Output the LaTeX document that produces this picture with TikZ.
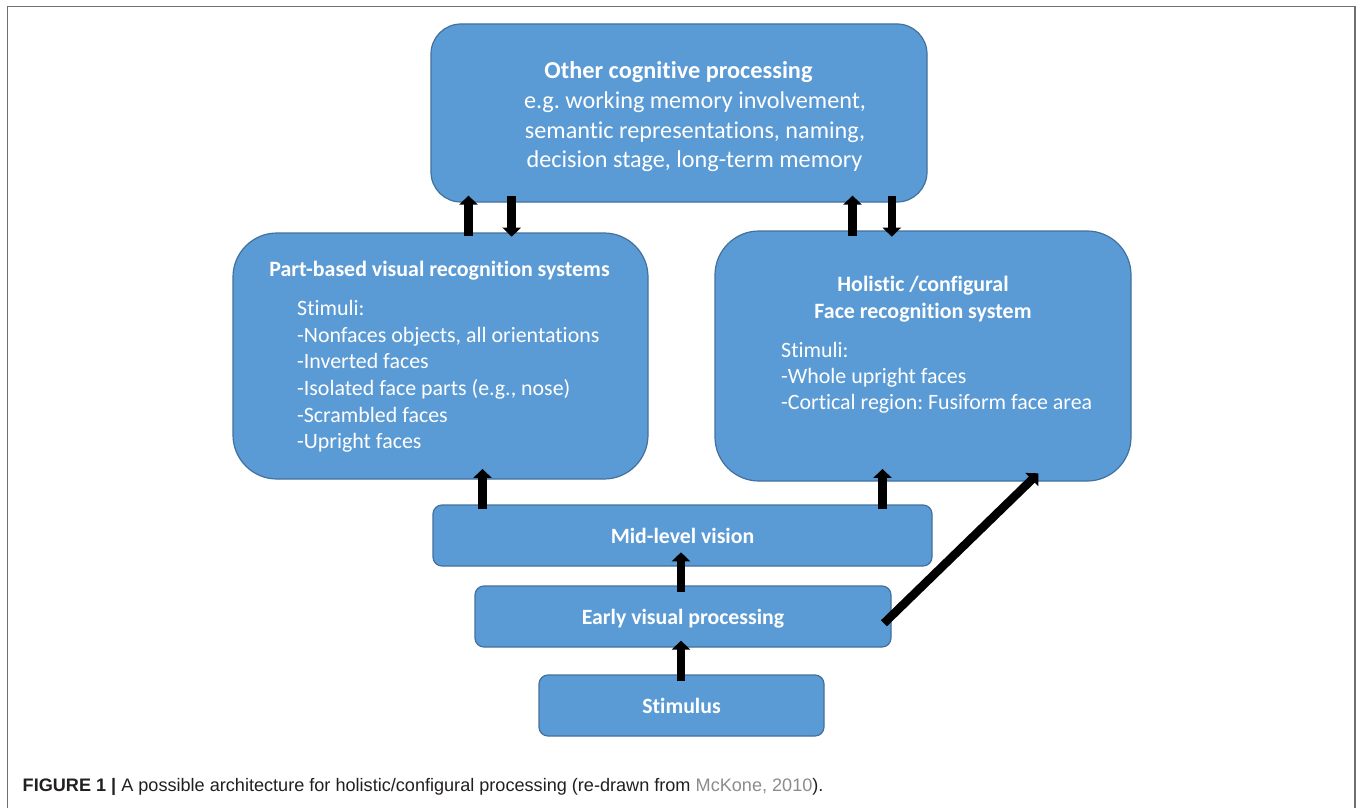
\documentclass[tikz,border=0pt]{standalone}
\usepackage{fontspec}
\setmainfont{Carlito}[Ligatures=NoCommon]
\newfontfamily\capfont{Liberation Sans}
\usetikzlibrary{arrows.meta}
\definecolor{boxfill}{HTML}{5B9BD5}
\definecolor{boxline}{HTML}{41719C}
\definecolor{framegray}{HTML}{707070}
\definecolor{linkgray}{HTML}{8C8C8C}
\definecolor{captxt}{HTML}{231F20}
\frenchspacing
\begin{document}
\begin{tikzpicture}[x=1pt,y=-1pt,
  box/.style={draw=boxline,line width=1.2pt,fill=boxfill,inner sep=0pt},
  bigbox/.style={box},
  smallbox/.style={box,rounded corners=9pt,minimum height=61pt,
     font=\fontsize{21.8}{26}\selectfont\bfseries,text=white,text height=16pt,text depth=0pt},
  titletxt/.style={inner sep=0pt,anchor=base,text=white,font=\fontsize{21.9}{26}\selectfont\bfseries},
  bodytxt/.style={inner sep=0pt,anchor=base west,text=white,font=\fontsize{21.9}{26}\selectfont},
  toptxt/.style={inner sep=0pt,anchor=base,text=white,font=\fontsize{24.2}{29}\selectfont},
  blk/.style={draw=black,line width=8.5pt,-{Triangle[width=18pt,length=9pt]}}
]
\useasboundingbox (0,0) rectangle (1360,808);
\fill[white] (0,0) rectangle (1360,808);
\draw[framegray,line width=1.6pt] (7.5,808) -- (7.5,6.5) -- (1355,6.5) -- (1355,808);

% boxes
\node[bigbox,rounded corners=30pt,minimum width=496pt,minimum height=178pt] (top) at (679,113) {};
\node[bigbox,rounded corners=44pt,minimum width=415pt,minimum height=246pt] (part) at (440.5,356) {};
\node[bigbox,rounded corners=44pt,minimum width=416pt,minimum height=250pt] (holi) at (923,356) {};
\node[smallbox,minimum width=499pt] (mid) at (682.5,535.5) {Mid-level vision};
\node[smallbox,minimum width=416pt] (early) at (683,616.5) {Early visual processing};
\node[smallbox,minimum width=285pt] (stim) at (681.5,705.5) {Stimulus};

% top box text
\node[toptxt,font=\fontsize{24.3}{29}\selectfont\bfseries] (toptitle) at (678.5,78) {Other cognitive processing};
\node[toptxt] (topl1) at (695,108) {e.g. working memory involvement,};
\node[toptxt] (topl2) at (695,138) {semantic representations, naming,};
\node[toptxt] (topl3) at (694.5,167.5) {decision stage, long-term memory};

% part-based text
\node[titletxt] (parttitle) at (439.5,276) {Part-based visual recognition systems};
\node[bodytxt] (p1) at (297,315.5) {Stimuli:};
\node[bodytxt] (p2) at (297,342.2) {-Nonfaces objects, all orientations};
\node[bodytxt] (p3) at (297,368.8) {-Inverted faces};
\node[bodytxt] (p4) at (297,395.5) {-Isolated face parts (e.g., nose)};
\node[bodytxt] (p5) at (297,422.1) {-Scrambled faces};
\node[bodytxt] (p6) at (297,448.7) {-Upright faces};

% holistic text
\node[titletxt] (h0) at (923,291.5) {Holistic /configural};
\node[titletxt] (h00) at (923,318) {Face recognition system};
\node[bodytxt] (h1) at (781,357.2) {Stimuli:};
\node[bodytxt] (h2) at (781,383.8) {-Whole upright faces};
\node[bodytxt] (h3) at (781,409.8) {-Cortical region: Fusiform face area};

% x positions of arrows
\coordinate (xa) at (468.5,0);
\coordinate (xb) at (511.7,0);
\coordinate (xc) at (852.5,0);
\coordinate (xd) at (891.8,0);
\coordinate (xe) at (482.5,0);
\coordinate (xf) at (882.5,0);
\coordinate (xg) at (681,0);

\draw[blk,shorten <=-3.7pt,shorten >=-7pt] (part.north -| xa) -- (top.south -| xa);
\draw[blk,shorten <=-7pt,shorten >=-4.3pt] (top.south -| xb) -- (part.north -| xb);
\draw[blk,shorten <=-5.7pt,shorten >=-7pt] (holi.north -| xc) -- (top.south -| xc);
\draw[blk,shorten <=-7pt,shorten >=-6.3pt] (top.south -| xd) -- (holi.north -| xd);
\draw[blk,shorten <=-5pt,shorten >=-10.7pt] (mid.north -| xe) -- (part.south -| xe);
\draw[blk,shorten <=-5pt,shorten >=-12.7pt] (mid.north -| xf) -- (holi.south -| xf);
\draw[blk,shorten <=-6.7pt,shorten >=-14.3pt] (early.north -| xg) -- (mid.south -| xg);
\draw[blk,shorten <=-6.7pt,shorten >=-7pt] (stim.north -| xg) -- (early.south -| xg);
\coordinate (dtail) at ([shift={(-7.7,6.8)}]early.east);
\coordinate (dtip) at ([shift={(115.3,-8.3)}]holi.south);
\draw[blk] (dtail) -- (dtip);

% caption
\node[inner sep=0pt,anchor=base west,text=captxt,font=\capfont\fontsize{18.1}{21}\selectfont] (cap) at (22.5,791.5)
  {\textbf{FIGURE 1 |} A possible architecture for holistic/configural processing (re-drawn from \textcolor{linkgray}{McKone, 2010}).};
\end{tikzpicture}
\end{document}
